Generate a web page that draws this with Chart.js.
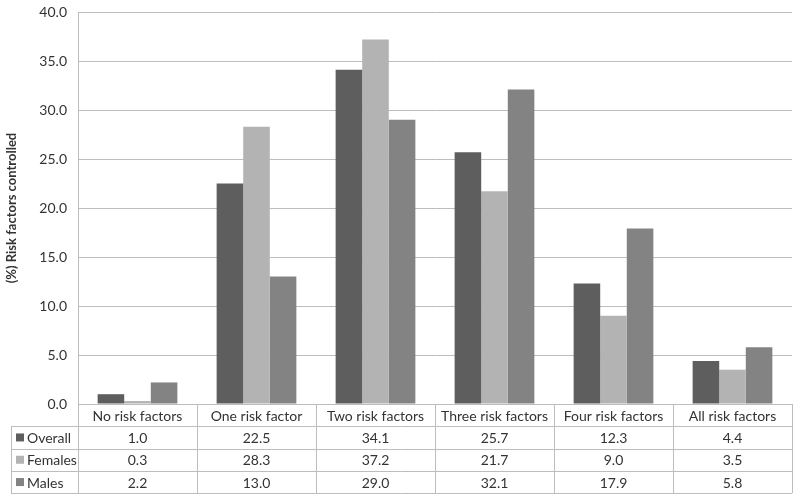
<!DOCTYPE html>
<html>
<head>
<meta charset="utf-8">
<script src="https://cdn.jsdelivr.net/npm/chart.js@4/dist/chart.umd.min.js"></script>
<style>
  html, body { margin: 0; padding: 0; background: #fff; }
  #wrap { width: 800px; height: 502px; }
</style>
</head>
<body>
<div id="wrap"><canvas id="c" width="800" height="502"></canvas></div>
<script>
const categories = ['No risk factors', 'One risk factor', 'Two risk factors', 'Three risk factors', 'Four risk factors', 'All risk factors'];
const seriesNames = ['Overall', 'Females', 'Males'];
const overall = [1.0, 22.5, 34.1, 25.7, 12.3, 4.4];
const females = [0.3, 28.3, 37.2, 21.7, 9.0, 3.5];
const males = [2.2, 13.0, 29.0, 32.1, 17.9, 5.8];
const seriesColors = ['#5e5e5e', '#b3b3b3', '#838383'];

const fontFamily = "Lato, 'Open Sans', sans-serif";
const textColor = '#333333';
const lineColor = '#bdbdbd';

// draws the data table under the plot, columns follow the x scale
const dataTable = {
  id: 'dataTable',
  afterDraw(chart, args, opts) {
    const { ctx, chartArea, scales: { x } } = chart;
    const top = chartArea.bottom;
    const rowH = opts.rowHeight;
    const left = opts.left;
    const right = chartArea.right;
    const colW = x.getPixelForValue(1) - x.getPixelForValue(0);
    const rows = chart.data.datasets.length;
    const bottom = top + rowH * (rows + 1);

    ctx.save();
    ctx.strokeStyle = lineColor;
    ctx.lineWidth = 1;
    ctx.beginPath();
    // horizontal lines
    ctx.moveTo(chartArea.left, top + 0.5);
    ctx.lineTo(right, top + 0.5);
    for (let r = 1; r <= rows + 1; r++) {
      const y = Math.round(top + rowH * r) + 0.5;
      ctx.moveTo(left, y);
      ctx.lineTo(right, y);
    }
    // vertical lines
    ctx.moveTo(left + 0.5, top + rowH);
    ctx.lineTo(left + 0.5, bottom);
    for (let i = 0; i <= chart.data.labels.length; i++) {
      const xx = Math.round(x.getPixelForValue(i) - colW / 2) + 0.5;
      ctx.moveTo(xx, top);
      ctx.lineTo(xx, bottom);
    }
    ctx.stroke();

    ctx.font = opts.fontSize + 'px ' + fontFamily;
    ctx.fillStyle = textColor;
    ctx.textAlign = 'center';
    ctx.textBaseline = 'middle';
    chart.data.labels.forEach((lab, i) => {
      ctx.fillText(lab, x.getPixelForValue(i), top + rowH / 2 + 1);
    });
    chart.data.datasets.forEach((ds, r) => {
      const cy = top + rowH * (r + 1.5) + 1;
      ds.data.forEach((v, i) => {
        ctx.fillStyle = textColor;
        ctx.textAlign = 'center';
        ctx.fillText(v.toFixed(1), x.getPixelForValue(i), cy);
      });
      ctx.fillStyle = ds.backgroundColor;
      ctx.fillRect(left + 5, cy - 5, 8, 8);
      ctx.fillStyle = textColor;
      ctx.textAlign = 'left';
      ctx.fillText(ds.label, left + 16, cy);
    });
    ctx.restore();
  }
};

const datasets = [overall, females, males].map((d, i) => ({
  label: seriesNames[i],
  data: d,
  backgroundColor: seriesColors[i],
  borderWidth: 0,
  categoryPercentage: 0.67,
  barPercentage: 1.0
}));

new Chart(document.getElementById('c'), {
  type: 'bar',
  data: { labels: categories, datasets: datasets },
  options: {
    responsive: false,
    animation: false,
    layout: { padding: { top: 12, right: 8, bottom: 98, left: 0 } },
    plugins: {
      legend: { display: false },
      tooltip: { enabled: false },
      dataTable: { rowHeight: 22.3, left: 11, fontSize: 14 }
    },
    scales: {
      x: {
        ticks: { display: false },
        grid: { display: false, drawTicks: false },
        border: { display: false }
      },
      y: {
        min: 0,
        max: 40,
        ticks: {
          stepSize: 5,
          color: textColor,
          padding: 11,
          font: { family: fontFamily, size: 14 },
          callback: v => v.toFixed(1)
        },
        grid: { color: lineColor, drawTicks: false },
        border: { color: lineColor },
        title: {
          display: true,
          text: '(%) Risk factors controlled',
          color: textColor,
          font: { family: fontFamily, size: 13, weight: 'bold' }
        },
        afterFit(scale) {
          scale.width = 78;
          scale.paddingTop = 0;
          scale.paddingBottom = 0;
        }
      }
    }
  },
  plugins: [dataTable]
});
</script>
</body>
</html>
